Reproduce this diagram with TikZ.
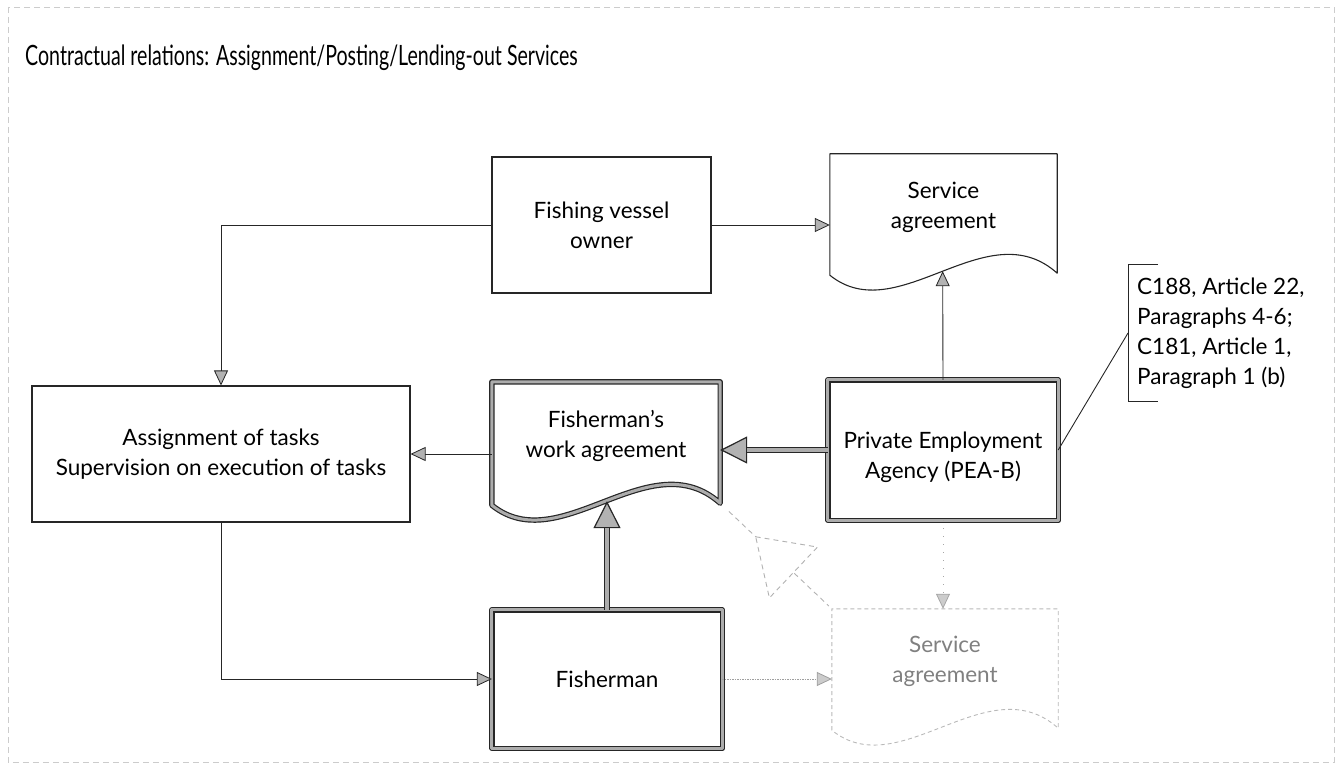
\documentclass[tikz,border=0pt]{standalone}
\usepackage{fontspec}
\setmainfont{Lato}
\newfontfamily\titlefont{Lato}[FakeStretch=0.70]
\usetikzlibrary{arrows.meta,calc,decorations.markings}
\newcommand{\docshape}[2]{%
  \draw[#2] (#1.south west) -- (#1.north west) -- (#1.north east) -- ([yshift=2pt]#1.south east)
    .. controls ($(#1.south west)!0.69!(#1.south east)+(0,65)$) and ($(#1.south west)!0.3!(#1.south east)+(0,-55)$) ..
    node[coordinate, pos=0.5] (#1w) {} (#1.south west) -- cycle;}
\begin{document}
\begin{tikzpicture}[x=1pt,y=1pt,
  txt/.style={font=\fontsize{22.5}{30}\selectfont, align=center},
  box/.style={rectangle, draw=black!85, line width=1.1pt, inner sep=0pt, txt},
  thickbox/.style={draw=black!85, line width=1.2pt, double=gray!65, double distance=3pt, line join=round},
  thinbox/.style={draw=black!85, line width=1.1pt, line join=round},
  ghostbox/.style={draw=gray!55, line width=0.9pt, dash pattern=on 4pt off 3pt, line join=round},
  docnode/.style={rectangle, inner sep=0pt, draw=none},
  thinarrow/.style={line width=0.9pt, draw=black!85, -{Triangle[length=15pt, width=14pt, fill=gray!60, line width=0.8pt]}},
  thickarrow/.style={line width=6.5pt, draw=black!85, -{Triangle[length=27pt, width=27pt, fill=gray!60, line width=1.2pt]},
     postaction={draw=gray!65, line width=3.5pt, -, shorten >=27pt}},
  dotarrow/.style={line width=0.9pt, draw=gray!75, dash pattern=on 1.5pt off 1pt, -{Triangle[length=15pt, width=14pt, fill=gray!40, line width=0.8pt]}},
  sparsearrow/.style={line width=0.9pt, draw=gray!70, dash pattern=on 1pt off 7pt, -{Triangle[length=15pt, width=14pt, fill=gray!40, line width=0.8pt]}},
  dashline/.style={draw=gray!60, line width=0.9pt, dash pattern=on 5pt off 4pt},
  frame/.style={draw=gray!40, line width=0.8pt, dash pattern=on 6pt off 4pt}]
\useasboundingbox (0,0) rectangle (1338,-770);
\draw[frame] (8,-7) rectangle (1334,-762);

\node[anchor=base west, inner sep=0pt, font=\titlefont\fontsize{28}{30}\selectfont] (title) at (25,-66)
  {Contractual relations: Assignment/Posting/Lending-out Services};

% nodes
\node[box, minimum width=219, minimum height=136] (fvo) at (601.5,-225) {Fishing vessel\\owner};
\node[docnode, minimum width=227, minimum height=121,
  label={[txt, yshift=7pt]center:Service\\agreement}] (sa1) at (943.5,-214.5) {};
\node[box, minimum width=378, minimum height=136] (asg) at (221,-454) {Assignment of tasks\\Supervision on execution of tasks};
\node[docnode, minimum width=228, minimum height=123,
  label={[txt, yshift=7.5pt]center:Fisherman’s\\work agreement}] (fwa) at (606,-443.5) {};
\node[docnode, minimum width=230, minimum height=140,
  label={[txt, yshift=-7pt]center:Private Employment\\Agency (PEA-B)}] (pea) at (943,-450) {};
\node[docnode, minimum width=230, minimum height=138,
  label={[txt]center:Fisherman}] (fish) at (607,-679) {};
\node[docnode, minimum width=226, minimum height=121,
  label={[txt, text=black!50, yshift=8pt]center:Service\\agreement}] (sa2) at (945,-669.5) {};
\node[txt, align=left, anchor=west, inner xsep=9pt, inner ysep=0pt, minimum height=136] (cite) at (1128,-333)
  {C188, Article 22,\\Paragraphs 4-6;\\C181, Article 1,\\Paragraph 1 (b)};

% shapes
\docshape{sa1}{thinbox}
\docshape{fwa}{thickbox}
\docshape{sa2}{ghostbox}
\draw[thickbox] (pea.south west) rectangle (pea.north east);
\draw[thickbox] (fish.south west) rectangle (fish.north east);
\draw[line width=0.9pt, draw=black!85] ([xshift=30pt]cite.north west) -- (cite.north west) -- (cite.south west) -- ([xshift=30pt]cite.south west);

% connectors
\draw[thinarrow] (fvo.east) -- (fvo.east -| sa1.west);
\draw[thinarrow] (fvo.west) -| (asg.north);
\draw[thinarrow] (fwa.west |- asg.east) -- (asg.east);
\draw[thinarrow] (pea.north) -- (sa1w);
\draw[thickarrow] (pea.west) -- (pea.west -| fwa.east);
\draw[thickarrow] (fish.north) -- (fish.north |- fwaw);
\draw[thinarrow] (asg.south) |- (fish.west);
\draw[dotarrow] (fish.east) -- (fish.east -| sa2.west);
\draw[sparsearrow] (pea.south) -- (pea.south |- sa2.north);
\draw[line width=0.9pt, draw=black!85] (pea.east) -- (cite.west);
\draw[dashline, shorten <=12pt, shorten >=4pt,
  postaction={decorate, decoration={markings, mark=at position 0.487 with
    {\draw[dashline, fill=white] (-26,0) -- (26,35) -- (26,-35) -- cycle;}}}]
  ([yshift=2pt]fwa.south east) -- (sa2.north west);
\end{tikzpicture}
\end{document}
